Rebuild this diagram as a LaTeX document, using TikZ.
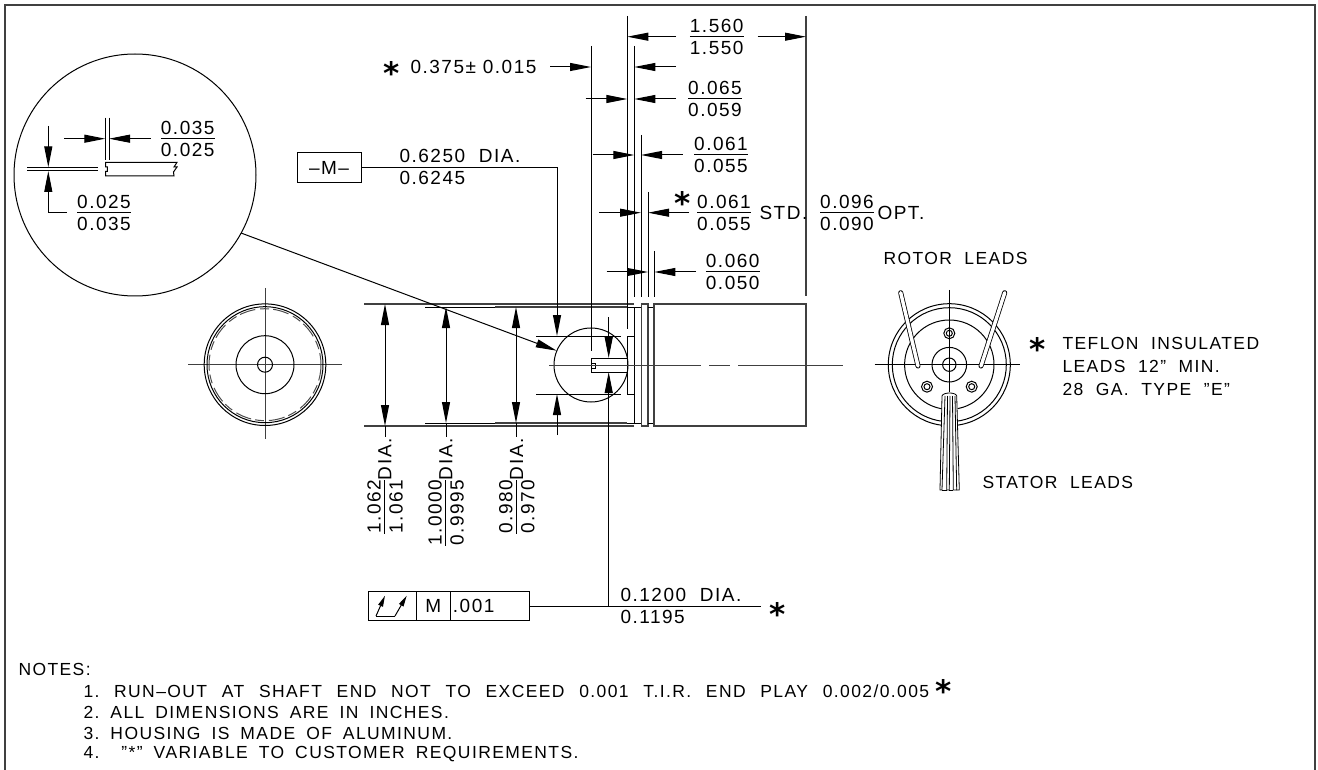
\documentclass[tikz,border=0pt]{standalone}
\usepackage{fontspec}
\setmainfont[LetterSpace=8]{Liberation Sans}
\newfontfamily\starfont{DejaVu Sans}
\usetikzlibrary{arrows.meta,positioning}
\setlength{\arrayrulewidth}{1pt}
\newcommand{\dimfrac}[2]{{\renewcommand{\arraystretch}{0}\begin{tabular}{@{}c@{}}\rule[-3.5pt]{0pt}{17pt}#1\\\hline\rule{0pt}{17.5pt}#2\end{tabular}}}
\newcommand{\notegap}[1]{\spaceskip=#1pt\relax\xspaceskip=#1pt\relax}

\begin{document}
\begin{tikzpicture}[x=1pt,y=-1pt,line width=1pt,>={Triangle[length=21pt,width=8pt]},
    dim node/.style={inner sep=0pt,font=\fontsize{19}{22}\selectfont},
    note node/.style={inner sep=0pt,anchor=west,font=\fontsize{17.5}{20}\selectfont},
    star node/.style={inner sep=0pt,anchor=base,yshift=-18pt,font=\starfont\bfseries\fontsize{31}{31}\selectfont},
    tol cell/.style={draw,inner sep=0pt,outer sep=0pt,minimum height=29pt,font=\fontsize{19}{22}\selectfont},
    body line/.style={line width=1.3pt,black!75}]
    \useasboundingbox (0,0) rectangle (1318,770);
    \draw[body line] (5,770) -- (5,5) -- (1315,5) -- (1315,770);

    \draw[body line] (364,304) -- (634,304);
    \draw[body line] (364,426) -- (634,426);
    \draw (425,307) -- (634,307);
    \draw (425,423) -- (634,423);
    \draw[body line] (495,307) -- (627,307);
    \draw[body line] (495,423) -- (627,423);
    \draw (627,336) -- (634,336);
    \draw (627,394) -- (634,394);
    \draw (627,336) -- (627,394);
    \draw (634,307) rectangle (641.5,423);
    \draw[body line] (641.5,304) rectangle (648,426);
    \draw (648,307) -- (654,307);
    \draw (648,423) -- (654,423);
    \draw[body line] (654,304) rectangle (806,426);
    \draw (591,365) circle (37);
    \draw (536,336) -- (621,336);
    \draw (536,394) -- (621,394);
    \draw (627,358) -- (591,358) -- (591,372) -- (627,372);
    \draw (591,363) -- (595,363) -- (595,368) -- (591,368);
    \draw[body line,line width=1pt] (549,365) -- (701,365);
    \draw[body line,line width=1pt] (709,365) -- (730,365);
    \draw[body line,line width=1pt] (738,365) -- (843,365);

    \draw (627.3,16) -- (627.3,329);
    \draw (634.3,46) -- (634.3,297);
    \draw (641,135) -- (641,297);
    \draw (648,192) -- (648,297);
    \draw (654.3,251) -- (654.3,297);
    \draw[body line] (806,16) -- (806,296);
    \draw (591,46) -- (591,351);

    \node[dim node] (len) at (716.7,36.5) {\dimfrac{1.560}{1.550}};
    \draw[->] (676,36.7) -- (627.3,36.7);
    \draw[->] (757.7,36.7) -- (806,36.7);
    \node[star node] (starA) at (392,67) {*};
    \node[dim node,anchor=west] (shoulder) at (410,67) {0.375± 0.015};
    \draw[->] (550,67) -- (591,67);
    \draw[->] (676,67) -- (634.3,67);
    \node[dim node] (fl65) at (715,99) {\dimfrac{0.065}{0.059}};
    \draw[->] (585.7,99) -- (627.3,99);
    \draw[->] (676,99) -- (634.3,99);
    \node[dim node] (fl61) at (721,155) {\dimfrac{0.061}{0.055}};
    \draw[->] (592.7,155) -- (634.3,155);
    \draw[->] (682.7,155) -- (641,155);
    \node[dim node] (gap61) at (724,212.7) {\dimfrac{0.061}{0.055}};
    \node[star node] (starB) at (682.7,197) {*};
    \node[dim node,anchor=west] (std) at (759,212.7) {STD.};
    \node[dim node] (opt96) at (847,212.7) {\dimfrac{0.096}{0.090}};
    \node[dim node,anchor=west] (opt) at (877,212.7) {OPT.};
    \draw[->] (599,212.7) -- (641,212.7);
    \draw[->] (689,212.7) -- (648,212.7);
    \node[dim node] (fl60) at (732.7,272) {\dimfrac{0.060}{0.050}};
    \draw[->] (606.7,272) -- (648,272);
    \draw[->] (696,272) -- (654.3,272);

    \node[dim node,draw,minimum width=64pt,minimum height=30pt] (datum) at (329,167.5) {--M--};
    \node[dim node,anchor=south west] (bore) at (399,163.5) {0.6250\ \ DIA.};
    \node[dim node,anchor=north west] (boreb) at (399,171) {0.6245};
    \draw[->] (datum.east) -- (557,167.5) -- (557,336);
    \draw[->] (557,435) -- (557,394);

    \draw[<->] (385,304) -- (385,426);
    \draw (385,426) -- (385,437);
    \draw[<->] (446,307) -- (446,423);
    \draw (446,423) -- (446,437);
    \draw[<->] (516,307) -- (516,423);
    \draw (516,423) -- (516,437);
    \node[dim node,rotate=90,anchor=east] (dia1) at (385,438) {\dimfrac{1.062}{1.061}\raisebox{-2pt}{DIA.}};
    \node[dim node,rotate=90,anchor=east] (dia2) at (446,438) {\dimfrac{1.0000}{0.9995}\raisebox{-2pt}{DIA.}};
    \node[dim node,rotate=90,anchor=east] (dia3) at (516.7,438) {\dimfrac{0.980}{0.970}\raisebox{-2pt}{DIA.}};
    \draw[->] (608.7,317) -- (608.7,358);
    \draw[->] (608.7,606) -- (608.7,372);

    \draw (135,175) circle (121);
    \draw[->] (241,233) -- (556.7,350.7);
    \draw (105.3,117.7) -- (105.3,160);
    \draw (109,117.7) -- (109,160);
    \draw[->] (64,138.7) -- (105.3,138.7);
    \draw[->] (150.7,138.7) -- (109,138.7);
    \node[dim node] (chamf) at (187.7,139) {\dimfrac{0.035}{0.025}};
    \draw (27,167.3) -- (98,167.3);
    \draw (27,171) -- (98,171);
    \draw[->] (48.3,126) -- (48.3,167.3);
    \draw[->] (66.7,212.7) -- (48.3,212.7) -- (48.3,171);
    \node[dim node] (chamfb) at (104,212.7) {\dimfrac{0.025}{0.035}};
    \draw (105.7,162.3) -- (177,162.3) -- (174,167) -- (177,167) -- (173.5,172) -- (174,176) -- (105.7,176) -- (105.7,171.5) -- (107.3,171.5) -- (107.3,167) -- (105.7,167) -- cycle;

    \draw[body line,line width=1pt] (188,364.7) -- (342,364.7);
    \draw[body line,line width=1pt] (265,288) -- (265,439);
    \draw (265,364.7) circle (60.8);
    \draw (265,364.7) circle (58);
    \draw[black!70,dash pattern=on 16pt off 5pt on 9pt off 4pt] (265,364.7) circle (56);
    \draw (265,364.7) circle (29);
    \draw (265,364.7) circle (7.5);

    \draw (874.7,364.7) -- (1020,364.7);
    \draw (949.3,290) -- (949.3,393);
    \draw (949.3,364.7) circle (61);
    \draw (949.3,364.7) circle (57);
    \draw (949.3,364.7) circle (44.7);
    \draw (949.3,364.7) circle (17.3);
    \draw (949.3,364.7) circle (6.7);
    \draw (949.3,333.3) circle (5.5);
    \draw (949.3,333.3) circle (3);
    \draw (927,386.7) circle (5.5);
    \draw (927,386.7) circle (3);
    \draw (971.7,386.7) circle (5.5);
    \draw (971.7,386.7) circle (3);
    \draw[double,double distance=3.4pt,line width=0.8pt,line cap=round] (900.7,292.7) -- (918,366);
    \draw[double,double distance=3.4pt,line width=0.8pt,line cap=round] (1004.7,292.7) -- (981,366);
    \fill[white] (942,392) -- (957,392) -- (960,491) -- (939,491) -- cycle;
    \draw[line width=0.8pt] (942,396) .. controls (943,392) and (956,392) .. (956.7,396);
    \draw[line width=0.8pt] (942,396) -- (940,490) -- (942,490) -- (945,396);
    \draw[line width=0.8pt] (947.5,396) -- (946.7,490) -- (949.3,490) -- (950,396);
    \draw[line width=0.8pt] (952.5,396) -- (953.3,490) -- (956.7,490) -- (955,396);
    \draw[line width=0.8pt] (956.7,396) -- (959.3,490) -- (956.7,490);
    \draw[line width=0.8pt] (942,490) -- (946.7,490);
    \draw[line width=0.8pt] (949.3,490) -- (953.3,490);

    \node[note node] (rotor) at (883,258) {ROTOR\ \ LEADS};
    \node[note node] (stator) at (982,482) {STATOR\ \ LEADS};
    \node[star node] (starC) at (1037.7,342) {*};
    \node[note node] (wireA) at (1062,343) {TEFLON\ \ INSULATED};
    \node[note node] (wireB) at (1062,366) {LEADS\ \ 12''\ \ MIN.};
    \node[note node] (wireC) at (1062,389) {28\ \ GA.\ \ TYPE\ \ "E"};

    \node[tol cell,minimum width=48.4pt] (tolsym) at (392.5,606) {};
    \node[tol cell,minimum width=33.3pt,right=0pt of tolsym] (tolM) {M};
    \node[tol cell,minimum width=79.3pt,right=0pt of tolM] (tolval) {.001\hspace*{32pt}};
    \draw (376,616) -- (395,616);
    \draw[-{Triangle[length=11pt,width=5pt]}] (376,616) -- (385,595.7);
    \draw[-{Triangle[length=11pt,width=5pt]}] (395,616) -- (406.7,595.7);
    \draw (tolval.east) -- (760.7,606);
    \node[dim node,anchor=south west] (pin) at (620,602.5) {0.1200\ \ DIA.};
    \node[dim node,anchor=north west] (pinb) at (620,610) {0.1195};
    \node[star node] (starD) at (777.7,607) {*};

    \node[note node] (notes) at (18,669.5) {NOTES:};
    \node[note node] (noteA) at (83,691) {\notegap{14.7}1. RUN--OUT AT SHAFT END NOT TO EXCEED 0.001 T.I.R. END PLAY 0.002/0.005};
    \node[star node] (starE) at (944,684) {*};
    \node[note node] (noteB) at (83,712) {\notegap{11}2. ALL DIMENSIONS ARE IN INCHES.};
    \node[note node] (noteC) at (83,733) {\notegap{11}3. HOUSING IS MADE OF ALUMINUM.};
    \node[note node] (noteD) at (83,754) {\notegap{11}4.\ \ "*" VARIABLE TO CUSTOMER REQUIREMENTS.};
\end{tikzpicture}
\end{document}
